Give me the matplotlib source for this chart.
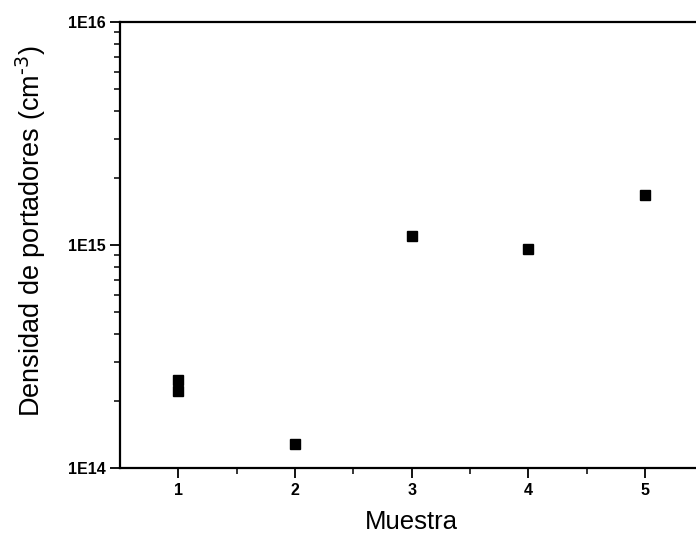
import matplotlib.pyplot as plt
from matplotlib.ticker import FixedLocator, LogLocator, NullFormatter

# Datos: densidad de portadores por muestra
muestra = [1, 1, 2, 3, 4, 5]
densidad = [2.48e14, 2.21e14, 1.28e14, 1.10e15, 9.6e14, 1.68e15]

y_ticks = [1e14, 1e15, 1e16]
y_labels = ['1E14', '1E15', '1E16']
x_ticks = [1, 2, 3, 4, 5]

plt.rcParams['font.family'] = ['Liberation Sans', 'DejaVu Sans']

fig = plt.figure(figsize=(6.96, 5.38), dpi=100)
ax = fig.add_axes([0.1724, 0.130, 0.838, 0.829])

ax.plot(muestra, densidad, 's', color='black', markersize=6.5)

ax.set_yscale('log')
ax.set_ylim(1e14, 1e16)
ax.set_xlim(0.5, 5.5)

ax.set_yticks(y_ticks)
ax.set_yticklabels(y_labels, fontweight='bold', fontsize=11.5)
ax.yaxis.set_minor_locator(LogLocator(base=10, subs=range(2, 10)))
ax.yaxis.set_minor_formatter(NullFormatter())

ax.set_xticks(x_ticks)
ax.set_xticklabels([str(v) for v in x_ticks], fontweight='bold', fontsize=11.5)
ax.xaxis.set_minor_locator(FixedLocator([1.5, 2.5, 3.5, 4.5]))

ax.tick_params(which='major', direction='out', length=7, width=1.3)
ax.tick_params(which='minor', direction='out', length=4, width=1.1)

for s in ax.spines.values():
    s.set_linewidth(1.6)

ax.set_xlabel('Muestra', fontsize=18.5, labelpad=9)
ax.set_ylabel('Densidad de portadores (cm$^{\\text{-}3}$)', fontsize=19.5)
ax.yaxis.set_label_coords(-0.124, 0.53)

fig.savefig('out.png', dpi=100)
